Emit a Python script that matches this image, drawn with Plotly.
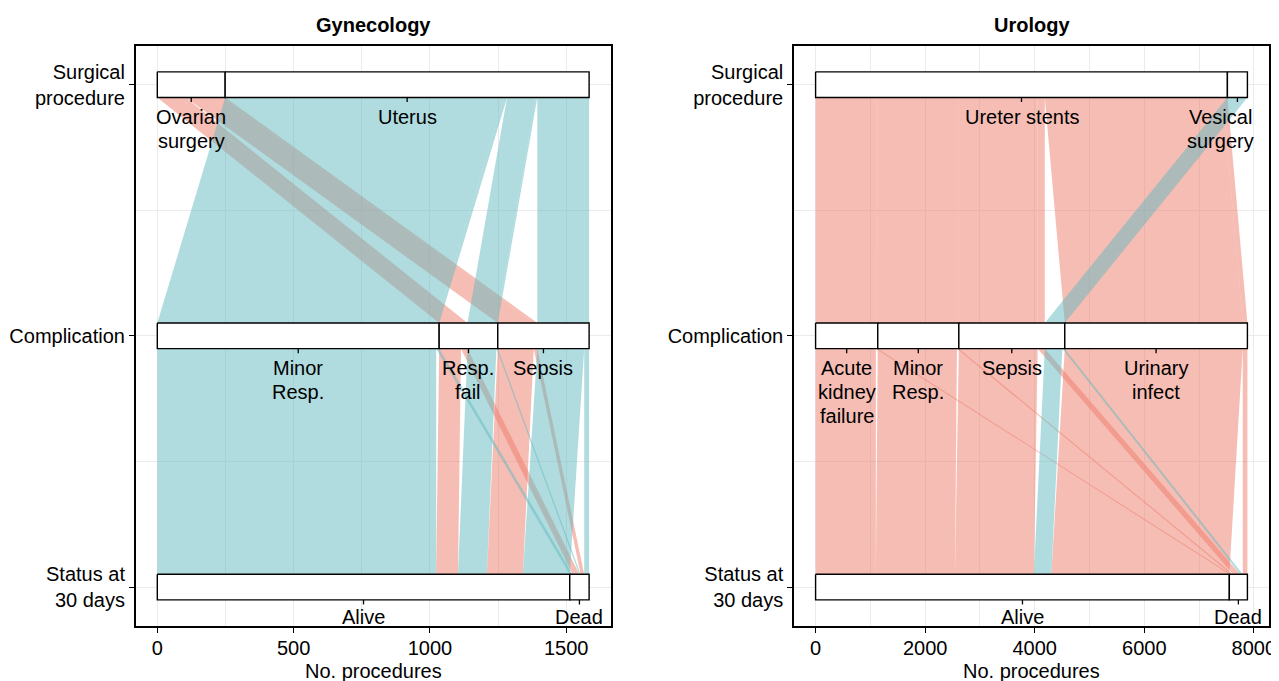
import plotly.graph_objects as go

# ---------------- data ----------------
axis_labels = ["Surgical<br>procedure", "Complication", "Status at<br>30 days"]
x_axis_title = "No. procedures"

# Gynecology
gyn_procedures = ["Ovarian surgery", "Uterus"]
gyn_complications = ["Minor Resp.", "Resp. fail", "Sepsis"]
gyn_status = ["Alive", "Dead"]
gyn_flow_procedure = ["Ovarian surgery", "Ovarian surgery", "Ovarian surgery", "Ovarian surgery",
                      "Uterus", "Uterus", "Uterus", "Uterus", "Uterus", "Uterus"]
gyn_flow_complication = ["Resp. fail", "Resp. fail", "Sepsis", "Sepsis",
                         "Minor Resp.", "Minor Resp.", "Resp. fail", "Resp. fail", "Sepsis", "Sepsis"]
gyn_flow_status = ["Alive", "Dead", "Alive", "Dead",
                   "Alive", "Dead", "Alive", "Dead", "Alive", "Dead"]
gyn_flow_n = [80, 24, 132, 13, 1023, 11, 106, 5, 172, 18]

# Urology
uro_procedures = ["Ureter stents", "Vesical surgery"]
uro_complications = ["Acute kidney failure", "Minor Resp.", "Sepsis", "Urinary infect"]
uro_status = ["Alive", "Dead"]
uro_flow_procedure = ["Ureter stents"] * 8 + ["Vesical surgery"] * 2
uro_flow_complication = ["Acute kidney failure", "Acute kidney failure", "Minor Resp.", "Minor Resp.",
                         "Sepsis", "Sepsis", "Urinary infect", "Urinary infect", "Sepsis", "Sepsis"]
uro_flow_status = ["Alive", "Dead"] * 5
uro_flow_n = [1100, 35, 1445, 35, 1439, 130, 3249, 85, 320, 45]

label_lines = {
    "Ovarian surgery": ["Ovarian", "surgery"], "Uterus": ["Uterus"],
    "Minor Resp.": ["Minor", "Resp."], "Resp. fail": ["Resp.", "fail"], "Sepsis": ["Sepsis"],
    "Alive": ["Alive"], "Dead": ["Dead"],
    "Ureter stents": ["Ureter stents"], "Vesical surgery": ["Vesical", "surgery"],
    "Acute kidney failure": ["Acute", "kidney", "failure"], "Urinary infect": ["Urinary", "infect"],
}
label_xshift = {"Vesical surgery": -17}

# ---------------- style ----------------
FONT = "Liberation Sans, Arial, Helvetica, sans-serif"
FS = 20
SALMON = "rgba(237,123,106,0.5)"
TEAL = "rgba(98,186,192,0.5)"
H = 0.051  # half height of axis boxes (in y units)
fill_cols = [SALMON, TEAL]
first_line_gap = [19.7, 19.7, 16.7]  # px from box bottom to first label line centre
line_step = 24


def stack(strata, flows, counts):
    idx = [[strata[k].index(f[k]) for k in range(3)] for f in flows]
    keys = {0: (0, 1, 2), 1: (1, 0, 2), 2: (2, 1, 0)}
    pos = [[None] * 3 for _ in flows]
    bounds = []
    for k in range(3):
        order = sorted(range(len(flows)), key=lambda i: tuple(idx[i][j] for j in keys[k]))
        cum = 0
        b = {}
        for i in order:
            lv = idx[i][k]
            s = cum
            cum += counts[i]
            pos[i][k] = (s, cum)
            if lv not in b:
                b[lv] = [s, cum]
            b[lv][1] = cum
        bounds.append(b)
    return idx, pos, bounds


fig = go.Figure()
annotations = []

panels = [
    ("Gynecology", "x", "y", [gyn_procedures, gyn_complications, gyn_status],
     list(zip(gyn_flow_procedure, gyn_flow_complication, gyn_flow_status)), gyn_flow_n),
    ("Urology", "x2", "y2", [uro_procedures, uro_complications, uro_status],
     list(zip(uro_flow_procedure, uro_flow_complication, uro_flow_status)), uro_flow_n),
]

totals = []
for title, xa, ya, strata, flows, counts in panels:
    idx, pos, bounds = stack(strata, flows, counts)
    totals.append(sum(counts))
    # flows: salmon first, teal on top
    for colour in (0, 1):
        for i in range(len(flows)):
            if idx[i][0] != colour:
                continue
            for k in (0, 1):
                a0, b0 = pos[i][k]
                a1, b1 = pos[i][k + 1]
                y0 = k + 1 + H
                y1 = k + 2 - H
                fig.add_trace(go.Scatter(
                    x=[a0, b0, b1, a1, a0], y=[y0, y0, y1, y1, y0],
                    fill="toself", fillcolor=fill_cols[colour], mode="lines",
                    line=dict(width=0), xaxis=xa, yaxis=ya, hoverinfo="skip",
                    showlegend=False))
    # boxes
    for k in range(3):
        for lv, (s, e) in bounds[k].items():
            fig.add_trace(go.Scatter(
                x=[s, e, e, s, s], y=[k + 1 - H, k + 1 - H, k + 1 + H, k + 1 + H, k + 1 - H],
                fill="toself", fillcolor="white", mode="lines",
                line=dict(color="black", width=1.4), xaxis=xa, yaxis=ya,
                hoverinfo="skip", showlegend=False))
            c = (s + e) / 2
            fig.add_trace(go.Scatter(
                x=[c, c], y=[k + 1 + H, k + 1 + H + 0.018], mode="lines",
                line=dict(color="black", width=1.3), xaxis=xa, yaxis=ya,
                hoverinfo="skip", showlegend=False))
            name = strata[k][lv]
            for j, line in enumerate(label_lines[name]):
                annotations.append(dict(
                    x=c, y=k + 1 + H, xref=xa, yref=ya, text=line,
                    showarrow=False, yanchor="middle", xanchor="center",
                    yshift=-(first_line_gap[k] + line_step * j),
                    xshift=label_xshift.get(name, 0),
                    font=dict(family=FONT, size=FS, color="black")))

# the page body has an 8 px margin: lay out relative to that
OFF = 8
W, Hh = 1279 - OFF, 681 - OFF


def px(x):
    return (x - OFF) / W


def py(y):
    return 1 - (y - OFF) / Hh


dom_left = [px(135.7), px(610.7)]
dom_right = [px(794.0), px(1269.0)]
dom_y = [py(626.0), py(45.7)]

for (title, xa, ya, *_), dom in zip(panels, [dom_left, dom_right]):
    annotations.append(dict(
        x=(dom[0] + dom[1]) / 2, y=py(25.0), xref="paper", yref="paper",
        text="<b>" + title + "</b>", showarrow=False, xanchor="center", yanchor="middle",
        font=dict(family=FONT, size=FS, color="black")))
    annotations.append(dict(
        x=(dom[0] + dom[1]) / 2, y=py(671.0), xref="paper", yref="paper",
        text=x_axis_title, showarrow=False, xanchor="center", yanchor="middle",
        font=dict(family=FONT, size=FS, color="black")))

grid = "#EBEBEB"


def xaxis_cfg(dom, total, ticks, minor, anchor):
    pad = 0.05 * total
    return dict(domain=dom, range=[-pad, total + pad], tickvals=ticks,
                ticktext=[str(t) for t in ticks], showgrid=True, gridcolor=grid, gridwidth=1.1,
                minor=dict(tickvals=minor, showgrid=True, gridcolor=grid, gridwidth=0.6, ticks=""),
                showline=True, mirror=True, linecolor="black", linewidth=1.5,
                ticks="outside", ticklen=5, tickwidth=1.2, tickcolor="black",
                tickfont=dict(family=FONT, size=FS, color="black"), ticklabelstandoff=-2,
                zeroline=False, automargin=False, fixedrange=True, anchor=anchor)


def yaxis_cfg(anchor):
    return dict(domain=dom_y, range=[3.155, 0.845], tickvals=[1, 2, 3], ticktext=axis_labels,
                showgrid=True, gridcolor=grid, gridwidth=1.1,
                minor=dict(tickvals=[1.5, 2.5], showgrid=True, gridcolor=grid, gridwidth=0.6, ticks=""),
                showline=True, mirror=True, linecolor="black", linewidth=1.5,
                ticks="outside", ticklen=5, tickwidth=1.2, tickcolor="black",
                tickfont=dict(family=FONT, size=FS, color="black"),
                zeroline=False, automargin=False, anchor=anchor, fixedrange=True)


fig.update_layout(
    width=W, height=Hh, margin=dict(l=0, r=0, t=0, b=0),
    paper_bgcolor="white", plot_bgcolor="white",
    xaxis=xaxis_cfg(dom_left, totals[0], [0, 500, 1000, 1500], [250, 750, 1250], "y"),
    xaxis2=xaxis_cfg(dom_right, totals[1], [0, 2000, 4000, 6000, 8000],
                     [1000, 3000, 5000, 7000], "y2"),
    yaxis=yaxis_cfg("x"),
    yaxis2=yaxis_cfg("x2"),
    annotations=annotations,
    font=dict(family=FONT, size=FS, color="black"),
    showlegend=False,
)

fig.write_html("out.html")
